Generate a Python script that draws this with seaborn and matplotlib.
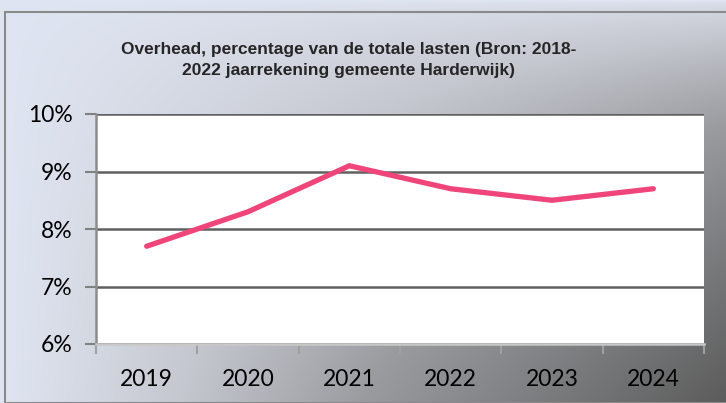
import numpy as np
import pandas as pd
import matplotlib
matplotlib.use("Agg")
import matplotlib.pyplot as plt
import seaborn as sns
from matplotlib.ticker import FuncFormatter, FixedLocator
from matplotlib.patches import Rectangle

years = ["2019", "2020", "2021", "2022", "2023", "2024"]
overhead = [0.077, 0.083, 0.091, 0.087, 0.085, 0.087]
y_ticks = [0.06, 0.07, 0.08, 0.09, 0.10]
title = "Overhead, percentage van de totale lasten (Bron: 2018-\n2022 jaarrekening gemeente Harderwijk)"

sns.set_theme(style="white")
plt.rcParams["font.family"] = ["Lato", "DejaVu Sans"]

W, H = 726, 403
fig = plt.figure(figsize=(W / 100, H / 100), dpi=100)

# gradient background: light along top/left edges, darkening toward bottom-right
bg = fig.add_axes([0, 0, 1, 1], zorder=-2)
xs = np.linspace(0, 1, 400)
ys = np.linspace(0, 1, 240)
X, Y = np.meshgrid(xs, ys)
s = X * np.sqrt(Y) * 0.75 + X * Y * 0.25
stops = np.array([0.0, 0.12, 0.25, 0.5, 1.0])
cols = np.array([
    [0.875, 0.898, 0.949],
    [0.830, 0.845, 0.885],
    [0.770, 0.780, 0.810],
    [0.600, 0.608, 0.624],
    [0.360, 0.360, 0.360],
])
img = np.stack([np.interp(s, stops, cols[:, k]) for k in range(3)], axis=-1)
bg.imshow(img, extent=[0, 1, 0, 1], aspect="auto", origin="upper")
bg.set_axis_off()
fig.patches.append(Rectangle((5 / W, 0), 1, 1 - 12 / H, transform=fig.transFigure,
                             fill=False, edgecolor="#8a8a8a", linewidth=1.5, zorder=5))

left, right, top, bottom = 96, 704, 114, 344
ax = fig.add_axes([left / W, 1 - bottom / H, (right - left) / W, (bottom - top) / H])
ax.set_facecolor("white")

df = pd.DataFrame({"year": years, "overhead": overhead})
sns.lineplot(data=df, x="year", y="overhead", ax=ax, color="#F0457A", linewidth=3.8,
             solid_capstyle="round", solid_joinstyle="miter")

ax.set_xlim(-0.5, len(years) - 0.5)
ax.set_ylim(y_ticks[0], y_ticks[-1])
ax.yaxis.set_major_locator(FixedLocator(y_ticks))
ax.yaxis.set_major_formatter(FuncFormatter(lambda v, p: f"{v * 100:.0f}%"))
ax.grid(axis="y", color="#606060", linewidth=1.8)
ax.set_axisbelow(True)
ax.set_xlabel("")
ax.set_ylabel("")

ax.set_xticks(range(len(years)))
ax.set_xticklabels(years)
ax.set_xticks(np.arange(-0.5, len(years), 1.0), minor=True)
ax.tick_params(axis="x", which="major", length=0, pad=18, labelsize=16.5, labelcolor="black")
ax.tick_params(axis="x", which="minor", length=7, width=1.5, color="#a0a0a0", direction="out", bottom=True)
ax.tick_params(axis="y", which="major", length=8, width=1.5, color="#808080", direction="out",
               left=True, pad=9, labelsize=16.5, labelcolor="black")

for s_ in ["top", "right"]:
    ax.spines[s_].set_visible(False)
ax.spines["left"].set_color("#8c8c8c")
ax.spines["left"].set_linewidth(1.8)
ax.spines["bottom"].set_color("#c8c8c8")
ax.spines["bottom"].set_linewidth(1.8)

fig.text(349 / W, 1 - 60 / H, title, ha="center", va="center", fontsize=12.5,
         fontweight="bold", family=["Liberation Sans", "DejaVu Sans"], linespacing=1.55)

fig.savefig("out.png", dpi=100)
